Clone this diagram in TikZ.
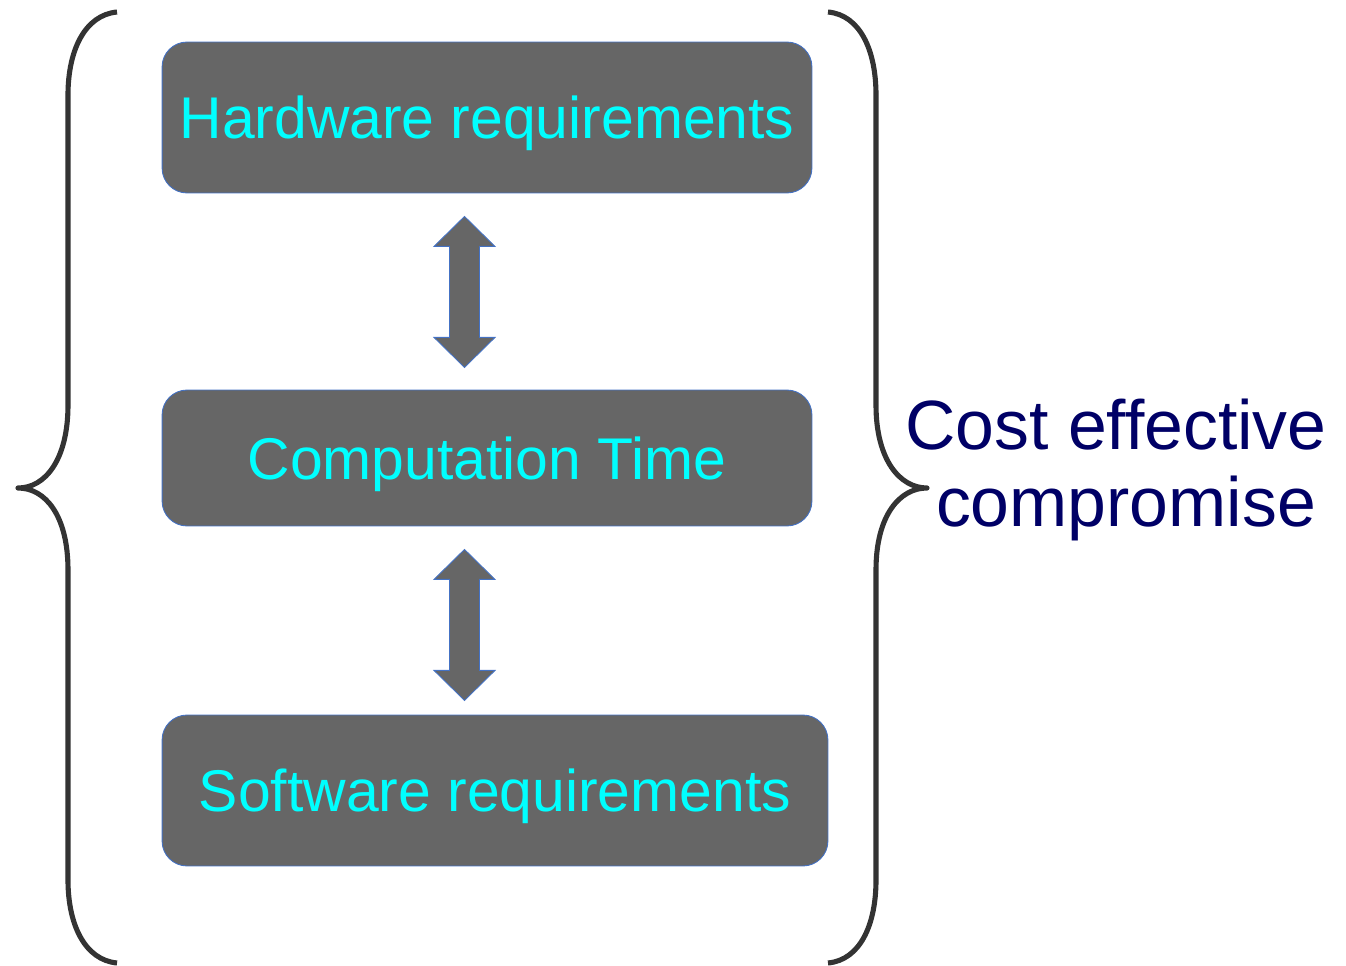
\documentclass[tikz,border=0pt]{standalone}
\usepackage{fontspec}
\setmainfont{Liberation Sans}
\usetikzlibrary{calc}

\definecolor{boxgray}{HTML}{666666}
\definecolor{boxline}{HTML}{4472C4}
\definecolor{bracegray}{HTML}{333333}
\definecolor{reqcyan}{HTML}{00FFFF}
\definecolor{costnavy}{HTML}{000066}

\tikzset{
	reqbox/.style={rectangle, rounded corners=0.5cm, fill=boxgray, draw=boxline, line width=0.5pt,
		text=reqcyan, font=\fontsize{33.5}{38}\selectfont, inner sep=0pt, text depth=0pt},
	fatarrow/.style={fill=boxgray, draw=boxline, line width=0.5pt},
	bigbrace/.style={draw=bracegray, line width=2.9pt, line join=round},
	costlabel/.style={text=costnavy, font=\fontsize{39.7}{44.2}\selectfont, align=center},
}

% block arrow between two boxes
\newcommand{\fatlink}[2]{
	\filldraw[fatarrow] ($(#1.south)+(-22.5,23)$) -- ++(30.5,30) -- ++(-15.5,0) -- ++(0,91) -- ++(15.5,0)
		-- ++(-30.5,30) -- ++(-30.5,-30) -- ++(15.5,0) -- ++(0,-91) -- ++(-15.5,0) -- cycle;
}

\begin{document}
\begin{tikzpicture}[x=0.02cm, y=-0.02cm]
	\useasboundingbox (0,0) rectangle (1346,966);

	\node[reqbox, minimum width=13cm, minimum height=3.02cm] (hw) at (487,117.5) {Hardware requirements};
	\node[reqbox, minimum width=13cm, minimum height=2.72cm] (ct) at (487,458) {Computation Time};
	\node[reqbox, minimum width=13.32cm, minimum height=3.02cm] (sw) at (495,790.5) {Software requirements};

	\fatlink{hw}{ct}
	\fatlink{ct}{sw}

	\draw[bigbrace] (117,12) .. controls (85,15) and (68,50) .. (68,95) -- (68,405)
		.. controls (68,460) and (45,488) .. (18,488) .. controls (45,488) and (68,515) .. (68,570)
		-- (68,880) .. controls (68,925) and (85,960) .. (117,963);
	\draw[bigbrace] (828,12) .. controls (860,15) and (876,50) .. (876,95) -- (876,405)
		.. controls (876,460) and (900,488) .. (927,488) .. controls (900,488) and (876,515) .. (876,570)
		-- (876,880) .. controls (876,925) and (860,960) .. (828,963);

	\node[costlabel] (cost) at (1116,470) {Cost effective\\\hspace*{0.4cm}compromise};
\end{tikzpicture}
\end{document}
